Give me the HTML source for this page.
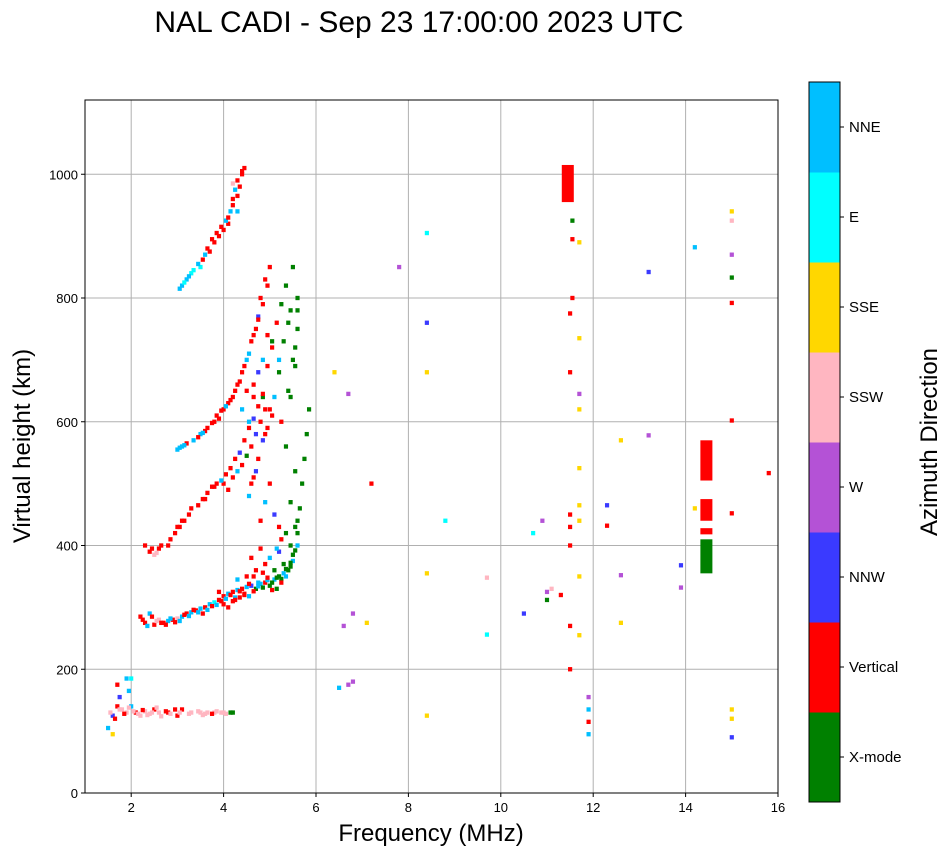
<!DOCTYPE html>
<html><head><meta charset="utf-8"><style>
body{margin:0;background:#fff;font-family:"Liberation Sans",sans-serif}
svg text{font-family:"Liberation Sans","DejaVu Sans",sans-serif}
</style></head><body>
<svg id="chart" width="951" height="856">
<text x="419" y="32" font-size="30" text-anchor="middle">NAL CADI - Sep 23 17:00:00 2023 UTC</text>
<g id="grid"></g><g id="marks"></g><g id="axes"></g><g id="cbar"></g>
<text x="431" y="841" font-size="24" text-anchor="middle">Frequency (MHz)</text>
<text transform="translate(30,446) rotate(-90)" font-size="24" text-anchor="middle">Virtual height (km)</text>
<text transform="translate(937,442) rotate(-90)" font-size="24" text-anchor="middle">Azimuth Direction</text>
</svg>
<script>
const dirNames=["X-mode","Vertical","NNW","W","SSW","SSE","E","NNE"];
const dirColors=["#008000","#ff0000","#3a3aff","#b452d6","#ffb6c1","#ffd700","#00ffff","#00bfff"];
const xTicks=[2,4,6,8,10,12,14,16];
const yTicks=[0,200,400,600,800,1000];
const freq=[2.2,2.3,2.4,2.5,2.6,2.7,2.8,2.9,3.0,3.1,3.2,3.3,3.4,3.5,3.6,3.7,3.8,3.9,4.0,4.1,4.2,4.3,4.4,4.5,4.6,4.7,4.8,4.9,5.0,5.1,5.2,5.3,5.4,5.5,5.5,5.6,5.6,5.6,5.65,5.7,5.75,5.8,5.85,4.0,4.1,3.9,4.2,4.3,4.5,4.7,4.9,5.1,5.3,5.0,5.2,4.8,4.6,
5.4,5.5,5.6,5.6,5.3,5.2,5.0,4.9,5.1,5.2,5.4,5.6,5.5,
2.3,2.4,2.5,2.6,2.8,3.0,3.1,3.3,3.6,3.8,4.0,4.1,4.2,4.3,4.4,4.5,4.6,4.7,4.8,4.9,4.6,4.7,4.8,4.9,5.0,5.1,5.2,
3.0,3.1,3.2,3.5,3.6,3.8,3.9,4.0,4.1,4.2,4.3,4.4,4.5,4.6,4.7,4.75,4.8,4.9,5.0,4.4,4.5,
3.1,3.2,3.3,3.5,3.6,3.7,3.8,3.9,4.0,4.1,4.15,4.2,4.25,4.3,4.4,4.45,
1.5,1.6,1.6,1.7,1.8,1.9,2.0,2.1,2.2,2.3,2.4,2.5,2.6,2.8,3.0,3.1,3.3,3.5,3.6,3.8,4.0,4.2,1.7,1.9,2.0,
6.7,6.5,6.8,6.6,6.8,7.1,6.4,6.7,7.2,7.8,8.4,8.4,8.4,8.4,8.4,8.8,9.7,9.7,10.5,10.7,10.9,11.0,11.1,11.0,11.3,11.5,11.5,11.5,11.5,11.5,11.5,11.55,11.5,11.55,11.55,11.7,11.7,11.7,11.7,11.7,11.7,11.7,11.7,11.7,11.9,11.9,11.9,11.9,12.3,12.3,12.6,12.6,12.6,13.2,13.2,13.9,13.9,14.2,14.2,15.0,15.0,15.0,15.0,15.0,15.0,15.0,15.0,15.0,15.0,15.8,
2.25,2.35,2.45,2.55,2.65,2.75,2.85,2.95,3.05,3.15,3.25,3.35,3.45,3.55,3.65,3.75,3.85,3.95,4.05,4.15,4.25,4.35,4.45,4.55,4.65,4.75,4.85,4.95,5.05,5.15,5.25,5.35,5.45,5.35,5.45,5.55,5.25,5.15,5.05,4.95,4.85,4.75,4.65,4.55,4.45,4.35,4.25,
5.45,5.55,5.35,5.25,5.15,5.45,5.55,5.35,5.25,5.45,5.55,5.05,4.95,4.85,4.75,4.65,4.85,4.95,5.05,5.15,5.25,5.35,5.45,5.55,
2.45,2.55,2.65,2.85,2.95,3.05,3.15,3.25,3.45,3.55,3.65,3.75,3.85,3.95,4.05,4.15,4.25,4.35,4.45,4.55,4.65,4.75,4.85,4.55,4.65,4.75,4.85,4.95,5.05,
3.05,3.15,3.35,3.45,3.55,3.65,3.75,3.85,3.95,4.05,4.15,4.25,4.35,4.45,4.55,4.65,4.75,4.85,4.95,4.55,4.65,
3.05,3.15,3.25,3.35,3.45,3.55,3.65,3.75,3.85,3.95,4.05,4.1,4.2,4.3,4.35,4.4,4.2,4.3,
1.55,1.65,1.75,1.85,1.95,2.05,2.15,2.25,2.35,2.45,2.55,2.65,2.75,2.85,2.95,3.05,3.25,3.45,3.55,3.65,3.75,3.85,3.95,4.05,4.15,1.95,1.75];
const height=[285,275,290,272,280,275,278,280,282,285,290,292,295,298,300,305,308,312,318,322,325,328,330,333,335,330,338,340,335,345,350,355,360,375,385,400,420,440,460,500,540,580,620,305,300,325,310,345,350,360,370,360,370,380,390,395,380,
650,700,750,780,730,680,620,580,640,700,760,800,850,
400,390,385,395,400,430,440,460,475,495,500,490,510,520,530,545,560,580,600,620,500,520,440,470,500,450,430,
555,560,565,580,585,600,605,620,630,640,660,680,700,730,750,770,800,830,850,620,650,
820,830,840,850,870,875,890,900,910,920,940,960,975,990,1005,1010,
105,95,125,140,135,130,140,130,125,132,128,135,130,130,125,135,130,130,128,130,130,130,175,185,185,
175,170,180,270,290,275,680,645,500,850,905,760,680,355,125,440,348,256,290,420,440,325,330,312,320,270,200,400,430,450,680,800,775,925,895,890,735,645,620,525,465,440,350,255,155,135,115,95,465,432,570,352,275,578,842,368,332,882,460,940,925,870,833,792,602,452,135,120,90,517,
280,270,285,278,275,272,282,276,278,288,286,296,292,290,296,302,304,310,314,320,316,326,322,318,326,334,332,344,340,348,346,362,372,350,366,392,340,330,328,348,356,340,350,338,320,316,312,
400,430,420,410,395,470,520,560,600,640,690,720,740,700,680,660,640,690,730,760,790,820,780,720,
395,388,400,410,420,430,440,450,465,475,485,495,500,505,515,525,540,550,570,590,605,625,645,480,510,540,570,590,610,
558,562,570,575,582,590,598,610,618,625,635,650,665,690,710,740,765,790,820,600,640,
815,825,835,845,855,862,880,895,905,915,925,930,950,965,980,1000,985,940,
130,120,135,128,138,132,128,134,126,130,138,124,132,128,135,130,128,132,126,130,128,132,130,128,130,165,155];
const dir=[1,1,7,1,4,1,7,1,4,7,1,7,1,7,1,7,6,1,1,7,1,7,1,7,2,0,7,1,0,7,0,7,0,7,0,7,0,0,0,0,0,0,0,1,1,1,1,7,1,1,1,0,0,7,2,1,1,
0,0,0,0,0,0,1,1,7,7,0,0,0,
1,1,4,1,1,1,1,1,1,1,1,1,1,7,1,0,1,2,1,1,1,2,1,7,1,2,1,
7,7,1,7,1,1,1,1,1,1,1,1,7,1,1,2,1,1,1,7,1,
7,7,6,6,7,1,1,1,1,1,7,1,7,1,1,1,
7,5,2,1,4,4,7,1,4,4,4,1,4,1,1,1,4,4,4,4,4,0,1,7,6,
3,7,3,3,3,5,5,3,1,3,6,2,5,5,5,6,4,6,2,6,3,3,4,0,1,1,1,1,1,1,1,1,1,0,1,5,5,3,5,5,5,5,5,5,3,7,1,7,2,1,5,3,5,3,2,2,3,7,5,5,4,3,0,1,1,1,5,5,2,1,
1,7,1,4,1,1,7,1,7,1,7,1,7,1,7,1,7,1,7,1,7,1,1,7,1,7,0,7,0,0,0,0,0,7,0,0,1,0,1,1,1,7,1,1,1,1,1,
0,0,0,1,7,0,0,0,1,0,0,1,1,7,2,1,0,1,0,1,0,0,0,0,
1,4,1,1,1,1,1,1,1,1,1,1,1,7,1,1,1,2,1,1,2,1,1,7,1,1,2,1,1,
7,7,7,1,7,1,1,1,1,7,1,1,1,1,7,1,1,1,1,7,1,
7,6,7,6,7,1,1,1,1,1,7,1,1,1,1,1,4,7,
4,1,4,1,4,4,4,1,4,4,4,4,1,4,1,4,4,4,4,4,1,4,4,4,0,7,2];
const blockF=[11.45,14.45,14.45,14.45,14.45];
const blockLo=[955,505,440,418,355];
const blockHi=[1015,570,475,428,410];
const blockDir=[1,1,1,1,0];

const X0=85,X1=778,Y0=793,Y1=100,fmin=1,fmax=16,hmin=0,hmax=1120;
const xs=f=>X0+(f-fmin)/(fmax-fmin)*(X1-X0);
const ys=h=>Y0-(h-hmin)/(hmax-hmin)*(Y0-Y1);
const NS="http://www.w3.org/2000/svg";
function mk(t,a,p){const e=document.createElementNS(NS,t);for(const k in a)e.setAttribute(k,a[k]);p.appendChild(e);return e;}
const grid=document.getElementById('grid'),marks=document.getElementById('marks'),axes=document.getElementById('axes'),cb=document.getElementById('cbar');
xTicks.forEach(t=>{const x=xs(t);
 const g=mk('line',{x1:x,x2:x,y1:Y1,y2:Y0,stroke:'#b0b0b0','stroke-width':1},grid);
 
 
 mk('line',{x1:x,x2:x,y1:Y0,y2:Y0+4,stroke:'#000'},axes);
 const tx=mk('text',{x:x,y:Y0+19,'font-size':13,'text-anchor':'middle'},axes);tx.textContent=t;
 
 });
yTicks.forEach(t=>{const y=ys(t);
 const g=mk('line',{x1:X0,x2:X1,y1:y,y2:y,stroke:'#b0b0b0','stroke-width':1},grid);
 
 
 mk('line',{x1:X0-4,x2:X0,y1:y,y2:y,stroke:'#000'},axes);
 const tx=mk('text',{x:X0-7,y:y+5,'font-size':13,'text-anchor':'end'},axes);tx.textContent=t;
 
 });
const fr=mk('rect',{x:X0,y:Y1,width:X1-X0,height:Y0-Y1,fill:'none',stroke:'#000'},axes);


const cw=0.09,chh=7;
const n=Math.min(freq.length,height.length,dir.length);
for(let i=0;i<n;i++){
 const r=mk('rect',{x:xs(freq[i]-cw/2),y:ys(height[i]+chh/2),width:xs(fmin+cw)-X0,height:ys(0)-ys(chh),fill:dirColors[dir[i]]},marks);
 
 }
for(let i=0;i<blockF.length;i++){
 const r=mk('rect',{x:xs(blockF[i]-0.13),y:ys(blockHi[i]),width:xs(fmin+0.26)-X0,height:ys(blockLo[i])-ys(blockHi[i]),fill:dirColors[blockDir[i]]},marks);
 
 }
const CX=809,CW=31,CT=82,CB=802,seg=(CB-CT)/dirNames.length;
dirNames.forEach((nm,i)=>{const y=CB-(i+1)*seg;
 const r=mk('rect',{x:CX,y:y,width:CW,height:seg+0.5,fill:dirColors[i]},cb);
 
 
 mk('line',{x1:CX+CW,x2:CX+CW+4,y1:y+seg/2,y2:y+seg/2,stroke:'#000'},cb);
 const t=mk('text',{x:CX+CW+9,y:y+seg/2+5,'font-size':15},cb);t.textContent=nm;
 
 });
mk('rect',{x:CX,y:CT,width:CW,height:CB-CT,fill:'none',stroke:'#000'},cb);
</script>
</body></html>
